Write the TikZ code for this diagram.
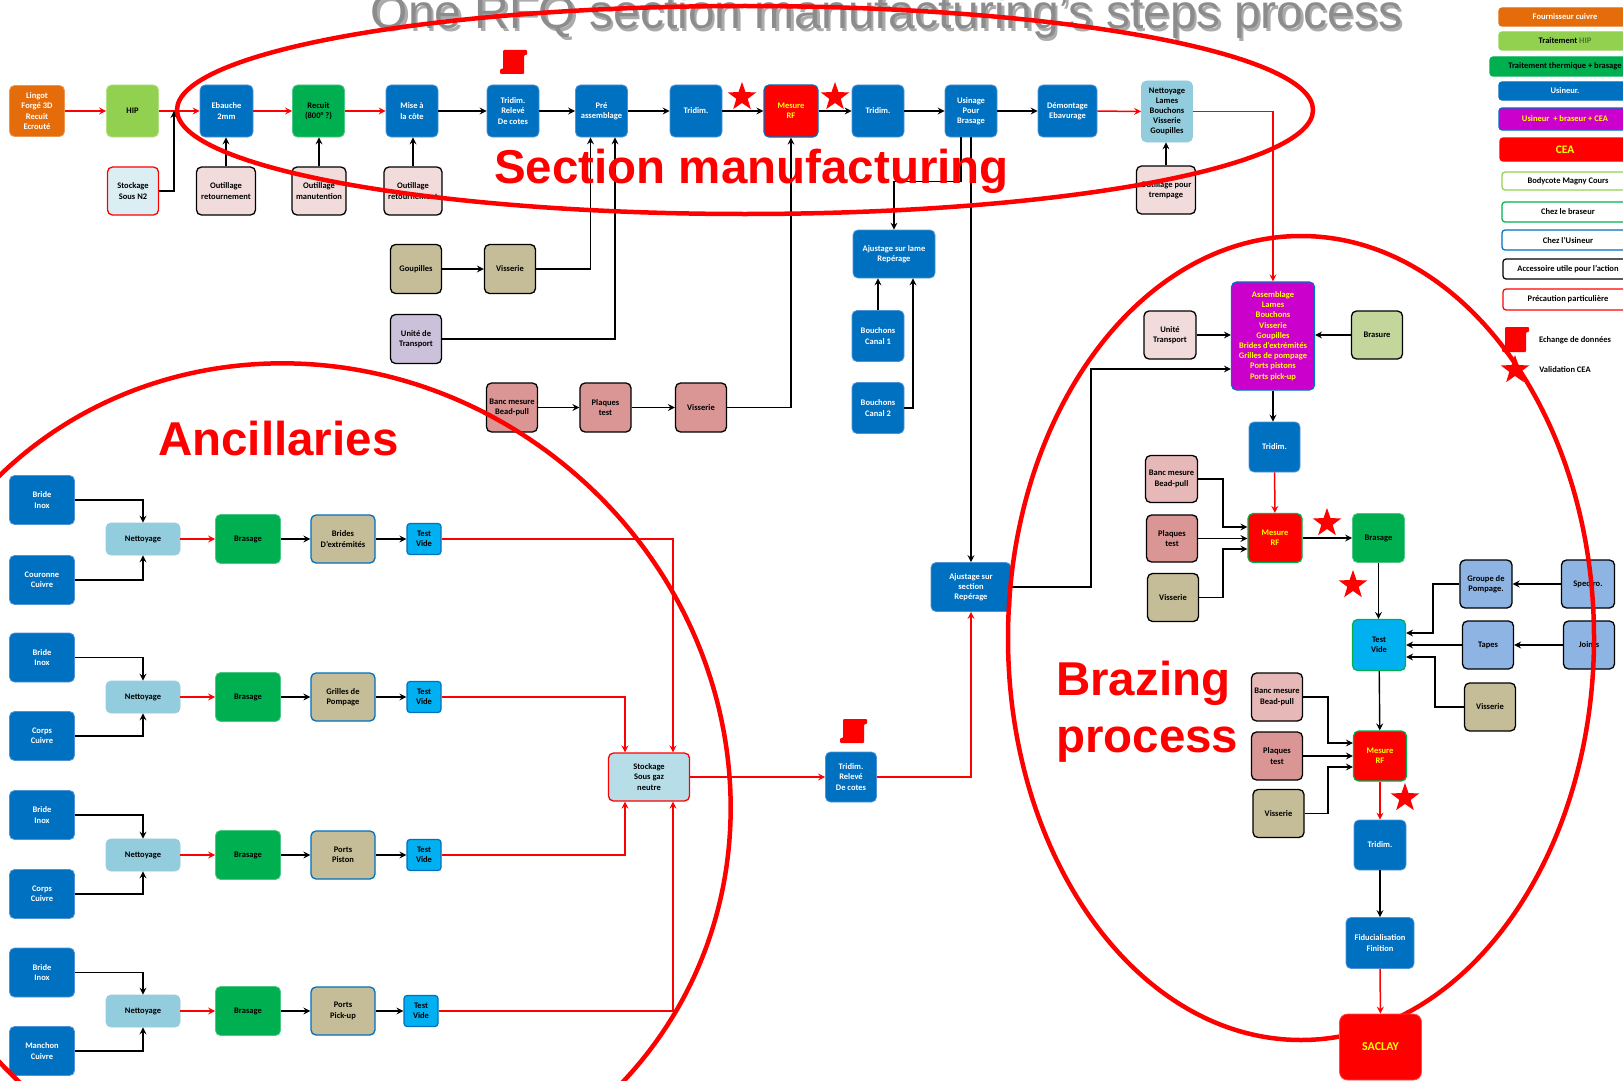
\documentclass[tikz,border=0pt]{standalone}
\usepackage{fontspec}
\setmainfont{Carlito}
\newfontfamily\arialf{Liberation Sans}
\usetikzlibrary{arrows.meta,shapes.geometric}
\definecolor{cBlue}{HTML}{0070C0}
\definecolor{cBlueE}{HTML}{4F93D6}
\definecolor{cOrange}{HTML}{E46C0A}
\definecolor{cLGreen}{HTML}{92D050}
\definecolor{cGreen}{HTML}{00B050}
\definecolor{cNet}{HTML}{93CDDD}
\definecolor{cPinkL}{HTML}{F2DCDB}
\definecolor{cStoN}{HTML}{DBEEF4}
\definecolor{cTan}{HTML}{C4BD97}
\definecolor{cLav}{HTML}{CCC1DA}
\definecolor{cPinkM}{HTML}{D99694}
\definecolor{cPinkB}{HTML}{E6B9B8}
\definecolor{cOlive}{HTML}{C3D69B}
\definecolor{cCyan}{HTML}{00B0F0}
\definecolor{cMag}{HTML}{CC00CC}
\definecolor{cRed}{HTML}{FF0000}
\definecolor{cYel}{HTML}{FFFF00}
\definecolor{cPeri}{HTML}{8EB4E3}
\definecolor{cStoG}{HTML}{B7DEE8}
\definecolor{cTitle}{HTML}{8C8C8C}
\newcommand\nf{\bfseries\fontsize{8.5}{10.2}\selectfont}
\newcommand\lgf{\bfseries\fontsize{8.5}{9}\selectfont}
\begin{document}
\begin{tikzpicture}[x=1pt,y=-1pt,
 >={Stealth[length=7pt,width=7pt,inset=2.5pt]},
 box/.style={rounded corners=5pt, align=center, font=\nf, inner sep=1pt, line width=0.8pt},
 sz/.style 2 args={minimum width=#1pt, minimum height=#2pt},
 nBlue/.style={box, fill=cBlue, draw=cBlueE, text=white},
 nOrange/.style={box, fill=cOrange, draw=cOrange!70!white, text=white},
 nHip/.style={box, fill=cLGreen, draw=cLGreen!70!white, text=black},
 nGreen/.style={box, fill=cGreen, draw=cGreen!70!white, text=black},
 nNet/.style={box, fill=cNet, draw=cNet, text=black},
 nAcc/.style={box, fill=#1, draw=black, line width=1.3pt, text=black},
 nProd/.style={box, fill=cTan, draw=cBlue, line width=1.3pt, text=black},
 nTV/.style={box, rounded corners=3pt, fill=cCyan, draw=cBlue, line width=1.2pt, text=black},
 nTVB/.style={box, fill=cCyan, draw=cGreen, line width=1.2pt, text=black},
 nMes/.style={box, fill=cRed, draw=#1, line width=1.2pt, text=cYel},
 nSto/.style={box, fill=#1, draw=cRed, line width=1.3pt, text=black},
 nPeri/.style={box, fill=cPeri, draw=black, line width=1.3pt, text=black},
 nMag/.style={box, fill=cMag, draw=cBlue, line width=1.2pt, text=cYel},
 bc/.style={draw=black, line width=1.4pt, ->},
 rc/.style={draw=cRed, line width=1.5pt, ->},
 rl/.style={draw=cRed, line width=1.2pt, ->},
 ell/.style={draw=cRed, line width=4.5pt},
 starn/.style={star, star points=5, star point ratio=2.5, fill=cRed, draw=none, minimum size=30pt, inner sep=0pt},
 lgbox/.style={rounded corners=3pt, line width=1.2pt},
 lgt/.style={font=\lgf, inner sep=0pt, anchor=center},
]
\path[use as bounding box, fill=white] (0,0) rectangle (1623,1081);
\clip (0,0) rectangle (1623,1081);

% title
\node[anchor=base, font=\arialf\fontsize{48}{48}\selectfont, text=black!60, opacity=0.55, inner sep=0pt] (titleS) at (889,31.5) {One RFQ section manufacturing’s steps process};
\node[anchor=base, font=\arialf\fontsize{48}{48}\selectfont, text=cTitle, inner sep=0pt] (title) at (886.5,29) {One RFQ section manufacturing’s steps process};

% ---------- top row ----------
\node[nOrange, sz={55}{51}] (lingot) at (37,111) {Lingot\\Forgé 3D\\Recuit\\Ecrouté};
\node[nHip, sz={52}{52}] (hip) at (132.5,111) {HIP};
\node[nBlue, sz={53}{52}] (eb) at (226.5,111) {Ebauche\\2mm};
\node[nGreen, sz={52}{52}] (rec) at (318.5,111) {Recuit\\(800° ?)};
\node[nBlue, sz={52}{52}] (mise) at (412,111) {Mise à\\la côte};
\node[nBlue, sz={52}{52}] (trr) at (513,111) {Tridim.\\Relevé\\De cotes};
\node[nBlue, sz={52}{52}] (pre) at (601.5,111) {Pré\\assemblage};
\node[nBlue, sz={52}{52}] (tr1) at (696,111) {Tridim.};
\node[nMes=cBlue, sz={54}{52}] (mes1) at (791,111) {Mesure\\RF};
\node[nBlue, sz={52}{52}] (tr2) at (878,111) {Tridim.};
\node[nBlue, sz={52}{52}] (usi) at (971,111) {Usinage\\Pour\\Brasage};
\node[nBlue, sz={59}{52}] (dem) at (1067.5,111) {Démontage\\Ebavurage};
\node[nNet, sz={51}{61}] (net) at (1167,111.5) {Nettoyage\\Lames\\Bouchons\\Visserie\\Goupilles};

\node[nSto=cStoN, sz={51}{48}] (ston2) at (133,191) {Stockage\\Sous N2};
\node[nAcc=cPinkL, sz={59}{48}] (out1) at (226,191) {Outillage\\retournement};
\node[nAcc=cPinkL, sz={54}{48}] (out2) at (319,191) {Outillage\\manutention};
\node[nAcc=cPinkL, sz={58}{48}] (out3) at (413,191) {Outillage\\retournement};
\node[nAcc=cPinkL, sz={59}{48}] (outt) at (1166,190) {Outillage pour\\trempage};

\draw[rc] (lingot) -- (hip);
\draw[rc] (hip) -- (eb);
\draw[rc] (eb) -- (rec);
\draw[rc] (rec) -- (mise);
\draw[bc] (mise) -- (trr);
\draw[bc] (trr) -- (pre);
\draw[bc] (pre) -- (tr1);
\draw[bc] (tr1) -- (mes1);
\draw[bc] (mes1) -- (tr2);
\draw[bc] (tr2) -- (usi);
\draw[bc] (usi) -- (dem);
\draw[rc] (dem) -- (net);
\coordinate (jn2) at (174,111);
\draw[bc] (ston2.east) -| (jn2);
\draw[bc] (out1.north) -- (out1.north |- eb.south);
\draw[bc] (out2.north) -- (out2.north |- rec.south);
\draw[bc] (out3.north) -- (out3.north |- mise.south);
\draw[bc] (outt.north) -- (outt.north |- net.south);

\node[starn] (st1) at (742,97) {};
\node[starn] (st2) at (835,97) {};
\begin{scope}[shift={(500,50)}]
\fill[cRed, rounded corners=1pt] (3,0) -- (27,0) -- (27,5) -- (24,5) -- (24,24) -- (0,24) -- (0,19) -- (3,19) -- cycle;
\end{scope}

% ---------- middle ----------
\node[nAcc=cTan, sz={51}{49}] (goup) at (416,269) {Goupilles};
\node[nAcc=cTan, sz={51}{49}] (vis1) at (510,269) {Visserie};
\node[nAcc=cLav, sz={51}{49}] (unit) at (416,339) {Unité de\\Transport};
\node[nAcc=cPinkM, sz={51}{49}] (banc1) at (512,407.5) {Banc mesure\\Bead-pull};
\node[nAcc=cPinkM, sz={51}{49}] (plq1) at (605.5,407.5) {Plaques\\test};
\node[nAcc=cPinkM, sz={51}{49}] (vis2) at (701,407.5) {Visserie};
\node[nBlue, sz={82}{48}] (ajl) at (894,254) {Ajustage sur lame\\Repérage};
\node[nBlue, sz={52}{51}] (c1) at (878,336) {Bouchons\\Canal 1};
\node[nBlue, sz={52}{51}] (c2) at (878,408) {Bouchons\\Canal 2};
\node[nBlue, sz={80}{49}] (ajs) at (971,587) {Ajustage sur\\section\\Repérage};
\node[nSto=cStoG, sz={81}{48}] (sto) at (649,777) {Stockage\\Sous gaz\\neutre};
\node[nBlue, sz={51}{50}] (trr2) at (851,777) {Tridim.\\Relevé\\De cotes};
\begin{scope}[shift={(840,719)}]
\fill[cRed, rounded corners=1pt] (3,0) -- (27,0) -- (27,5) -- (24,5) -- (24,24) -- (0,24) -- (0,19) -- (3,19) -- cycle;
\end{scope}

\draw[bc] (goup) -- (vis1);
\draw[bc] (vis1.east) -| ([xshift=-11pt]pre.south);
\draw[bc] (unit.east) -| ([xshift=13.5pt]pre.south);
\draw[bc] (banc1) -- (plq1);
\draw[bc] (plq1) -- (vis2);
\draw[bc] (vis2.east) -| (mes1.south);
\coordinate (ua) at (961,181.6);
\draw[bc] (usi.south -| ua) -- (ua) -| (ajl.north);
\draw[bc] (usi.south) -- (ajs.north);
\draw[bc] (c1.north) -- (c1.north |- ajl.south);
\draw[bc] (c2.east) -| ([xshift=19pt]ajl.south);
\draw[rc] (sto) -- (trr2);
\draw[rc] (trr2.east) -| (ajs.south);

% ---------- ancillaries ----------
\node[nBlue, sz={65}{49}] (bi1) at (42,500) {Bride\\Inox};
\node[nBlue, sz={65}{49}] (cu1) at (42,580) {Couronne\\Cuivre};
\node[nNet, sz={74}{32}] (nt1) at (143,539) {Nettoyage};
\node[nGreen, sz={65}{49}] (br1) at (248,539) {Brasage};
\node[nProd, sz={64}{48}] (pd1) at (343,539) {Brides\\D’extrémités};
\node[nTV, sz={34}{31}] (tv1) at (424,539) {Test\\Vide};

\node[nBlue, sz={65}{49}] (bi2) at (42,657.5) {Bride\\Inox};
\node[nBlue, sz={65}{49}] (cu2) at (42,736) {Corps\\Cuivre};
\node[nNet, sz={74}{32}] (nt2) at (143,697) {Nettoyage};
\node[nGreen, sz={65}{49}] (br2) at (248,697) {Brasage};
\node[nProd, sz={64}{48}] (pd2) at (343,697) {Grilles de\\Pompage};
\node[nTV, sz={34}{31}] (tv2) at (424,697) {Test\\Vide};

\node[nBlue, sz={65}{49}] (bi3) at (42,815) {Bride\\Inox};
\node[nBlue, sz={65}{49}] (cu3) at (42,894) {Corps\\Cuivre};
\node[nNet, sz={74}{32}] (nt3) at (143,855) {Nettoyage};
\node[nGreen, sz={65}{49}] (br3) at (248,855) {Brasage};
\node[nProd, sz={64}{48}] (pd3) at (343,855) {Ports\\Piston};
\node[nTV, sz={34}{31}] (tv3) at (424,855) {Test\\Vide};

\node[nBlue, sz={65}{49}] (bi4) at (42,972.5) {Bride\\Inox};
\node[nBlue, sz={65}{49}] (cu4) at (42,1051) {Manchon\\Cuivre};
\node[nNet, sz={74}{32}] (nt4) at (143,1011) {Nettoyage};
\node[nGreen, sz={65}{49}] (br4) at (248,1011) {Brasage};
\node[nProd, sz={64}{48}] (pd4) at (343,1011) {Ports\\Pick-up};
\node[nTV, sz={34}{31}] (tv4) at (421,1011) {Test\\Vide};

\foreach \i in {1,2,3,4}{
 \draw[bc] (bi\i.east) -| (nt\i.north);
 \draw[bc] (cu\i.east) -| (nt\i.south);
 \draw[rc] (nt\i) -- (br\i);
 \draw[bc] (br\i) -- (pd\i);
 \draw[bc] (pd\i) -- (tv\i);
}
\draw[rl] (tv1.east) -| ([xshift=24pt]sto.north);
\draw[rl] (tv2.east) -| ([xshift=-24pt]sto.north);
\draw[rl] (tv3.east) -| ([xshift=-24pt]sto.south);
\draw[rl] (tv4.east) -| ([xshift=24pt]sto.south);

% ---------- brazing ----------
\node[nMag, sz={83}{108}] (asm) at (1273,336) {Assemblage\\Lames\\Bouchons\\Visserie\\Goupilles\\Brides d’extrémités\\Grilles de pompage\\Ports pistons\\Ports pick-up};
\node[nAcc=cPinkL, sz={52}{48}] (unitb) at (1170,335) {Unité\\Transport};
\node[nAcc=cOlive, sz={51}{48}] (brasure) at (1377,335) {Brasure};
\node[nBlue, sz={51}{50}] (trb1) at (1274.5,447) {Tridim.};
\node[nMes=cGreen, sz={54}{49}] (mesb1) at (1275,538) {Mesure\\RF};
\node[nAcc=cPinkB, sz={52}{47}] (bancb1) at (1171.5,479) {Banc mesure\\Bead-pull};
\node[nAcc=cPinkM, sz={51}{47}] (plqb1) at (1172,538.5) {Plaques\\test};
\node[nAcc=cTan, sz={51}{48}] (visb1) at (1173,597.5) {Visserie};
\node[nGreen, sz={52}{49}] (brasb) at (1378.5,538) {Brasage};
\node[nTVB, sz={53}{51}] (tvb) at (1379,645) {Test\\Vide};
\node[nPeri, sz={52}{48}] (grp) at (1486,584) {Groupe de\\Pompage.};
\node[nPeri, sz={53}{48}] (spec) at (1588,584) {Spectro.};
\node[nPeri, sz={51}{48}] (tapes) at (1488,645) {Tapes};
\node[nPeri, sz={51}{48}] (joints) at (1589,645) {Joints};
\node[nAcc=cTan, sz={51}{48}] (visb2) at (1490,707) {Visserie};
\node[nAcc=cPinkB, sz={51}{48}] (bancb2) at (1277,697) {Banc mesure\\Bead-pull};
\node[nAcc=cPinkM, sz={51}{48}] (plqb2) at (1277,756) {Plaques\\test};
\node[nAcc=cTan, sz={51}{48}] (visb3) at (1278.5,813.5) {Visserie};
\node[nMes=cGreen, sz={53}{50}] (mesb2) at (1380,756) {Mesure\\RF};
\node[nBlue, sz={52}{50}] (trb2) at (1380,845) {Tridim.};
\node[nBlue, sz={68}{51}] (fid) at (1380,943) {Fiducialisation\\Finition};

\draw[rc] (net.east) -| (asm.north);
\coordinate (jas) at (1091,369);
\draw[bc] (ajs.east) -| (jas) -- (jas -| asm.west);
\draw[bc] (unitb.east) -- (unitb.east -| asm.west);
\draw[bc] (brasure.west) -- (brasure.west -| asm.east);
\draw[bc] (asm.south) -- (asm.south |- trb1.north);
\draw[rc] (trb1) -- (mesb1);
\coordinate (jb1) at (1223,527);
\coordinate (jv1) at (1223,549);
\draw[bc] (bancb1.east) -| (jb1) -- (jb1 -| mesb1.west);
\draw[bc] (plqb1.east) -- (plqb1.east -| mesb1.west);
\draw[bc] (visb1.east) -| (jv1) -- (jv1 -| mesb1.west);
\draw[bc] (mesb1) -- (brasb);
\draw[bc] (brasb) -- (brasb.south |- tvb.north);
\draw[bc] (spec) -- (grp);
\draw[bc] (joints) -- (tapes);
\coordinate (jg) at (1433,633);
\coordinate (jvv) at (1435,657);
\draw[bc] (grp.west) -| (jg) -- (jg -| tvb.east);
\draw[bc] (tapes.west) -- (tapes.west -| tvb.east);
\draw[bc] (visb2.west) -| (jvv) -- (jvv -| tvb.east);
\draw[bc] (tvb) -- (mesb2);
\coordinate (jb2) at (1328,743);
\coordinate (jv2) at (1328,767);
\draw[bc] (bancb2.east) -| (jb2) -- (jb2 -| mesb2.west);
\draw[bc] (plqb2.east) -- (plqb2.east -| mesb2.west);
\draw[bc] (visb3.east) -| (jv2) -- (jv2 -| mesb2.west);
\draw[rc] (mesb2) -- (trb2);
\draw[bc] (trb2) -- (fid);

\node[starn] (st3) at (1327,523) {};
\node[starn] (st4) at (1353,585) {};
\node[starn] (st5) at (1405,798) {};

% ---------- legend ----------
\draw[lgbox, fill=cOrange, draw=cOrange] (1499,8) rectangle (1640,26);
\node[lgt, text=white] (lg1) at (1565,17) {Fournisseur cuivre};
\draw[lgbox, fill=cLGreen, draw=cLGreen] (1499,32) rectangle (1640,50);
\node[lgt, text=black] (lg2) at (1565,41) {Traitement \textcolor{black!45!cLGreen}{HIP}};
\draw[lgbox, fill=cGreen, draw=cGreen] (1490,57) rectangle (1640,76);
\node[lgt, text=black] (lg3) at (1565,66.5) {Traitement thermique + brasage};
\draw[lgbox, fill=cBlue, draw=cBlue] (1499,82) rectangle (1640,100);
\node[lgt, text=white] (lg4) at (1565,91) {Usineur.};
\draw[lgbox, fill=cMag, draw=cBlue] (1499,108) rectangle (1640,130);
\node[lgt, text=cYel] (lg5) at (1565,119) {Usineur ~+ braseur + CEA};
\draw[lgbox, fill=cRed, draw=cRed] (1500,138) rectangle (1640,161);
\node[lgt, text=cYel, font=\bfseries\fontsize{11.5}{12}\selectfont] (lg6) at (1565,149.5) {CEA};
\draw[lgbox, fill=white, draw=cLGreen] (1502,172) rectangle (1640,190);
\node[lgt] (lg7) at (1568,181) {Bodycote Magny Cours};
\draw[lgbox, fill=white, draw=cGreen] (1502,202) rectangle (1640,222);
\node[lgt] (lg8) at (1568,212) {Chez le braseur};
\draw[lgbox, fill=white, draw=cBlue] (1502,230) rectangle (1640,250);
\node[lgt] (lg9) at (1568,240) {Chez l’Usineur};
\draw[lgbox, fill=white, draw=black] (1503,259) rectangle (1640,279);
\node[lgt] (lg10) at (1568,269) {Accessoire utile pour l’action};
\draw[lgbox, fill=white, draw=cRed] (1503,289) rectangle (1640,310);
\node[lgt] (lg11) at (1568,299.5) {Précaution particulière};
\begin{scope}[shift={(1502,327)}]
\fill[cRed, rounded corners=1pt] (3,0) -- (27,0) -- (27,5) -- (24,5) -- (24,25) -- (0,25) -- (0,20) -- (3,20) -- cycle;
\end{scope}
\node[lgt] (lg12) at (1575,340) {Echange de données};
\node[starn] (st6) at (1515,370) {};
\node[lgt] (lg13) at (1565,370) {Validation CEA};

% ---------- ellipses ----------
\draw[ell] (745,110) ellipse [x radius=568pt, y radius=104pt];
\coordinate (ancc) at (305,785);
\draw[ell, rotate around={-40:(ancc)}] (ancc) ellipse [x radius=435pt, y radius=412pt];
\draw[ell] (1301,638) ellipse [x radius=293pt, y radius=402pt];

\node[box, fill=cRed, draw=cRed!70!white, rounded corners=8pt, text=cYel, font=\bfseries\fontsize{12}{12}\selectfont, sz={82}{66}] (saclay) at (1380.5,1047) {SACLAY};
\draw[rc] (fid) -- (saclay);

% ---------- big labels ----------
\node[anchor=base west, inner sep=0pt, text=cRed, font=\arialf\bfseries\fontsize{47.5}{47.5}\selectfont] (lsec) at (494,183) {Section manufacturing};
\node[anchor=base west, inner sep=0pt, text=cRed, font=\arialf\bfseries\fontsize{47.5}{47.5}\selectfont] (lanc) at (158,455) {Ancillaries};
\node[anchor=base west, inner sep=0pt, text=cRed, font=\arialf\bfseries\fontsize{47.5}{47.5}\selectfont] (lbr1) at (1056,695) {Brazing};
\node[anchor=base west, inner sep=0pt, text=cRed, font=\arialf\bfseries\fontsize{47.5}{47.5}\selectfont] (lbr2) at (1056,752) {process};
\end{tikzpicture}
\end{document}
